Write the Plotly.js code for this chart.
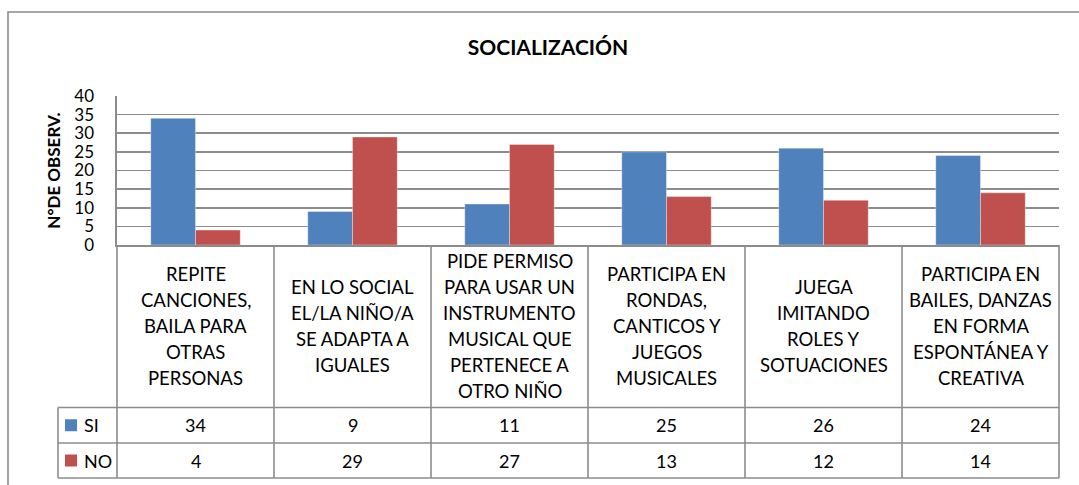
<!DOCTYPE html>
<html>
<head>
<meta charset="utf-8">
<script src="https://cdn.plot.ly/plotly-3.0.1.min.js"></script>
<style>html,body{margin:0;padding:0;background:#fff;}#chart{width:1079px;height:485px;}</style>
</head>
<body>
<div id="chart"></div>
<script>
// ---- data ----
var categories = [
  "REPITE<br>CANCIONES,<br>BAILA PARA<br>OTRAS<br>PERSONAS",
  "EN LO SOCIAL<br>EL/LA NIÑO/A<br>SE ADAPTA A<br>IGUALES",
  "PIDE PERMISO<br>PARA USAR UN<br>INSTRUMENTO<br>MUSICAL QUE<br>PERTENECE A<br>OTRO NIÑO",
  "PARTICIPA EN<br>RONDAS,<br>CANTICOS Y<br>JUEGOS<br>MUSICALES",
  "JUEGA<br>IMITANDO<br>ROLES Y<br>SOTUACIONES",
  "PARTICIPA EN<br>BAILES, DANZAS<br>EN FORMA<br>ESPONTÁNEA Y<br>CREATIVA"
];
var seriesNames = ["SI", "NO"];
var siValues = [34, 9, 11, 25, 26, 24];
var noValues = [4, 29, 27, 13, 12, 14];
var yTickVals = [0, 5, 10, 15, 20, 25, 30, 35, 40];
var chartTitle = "SOCIALIZACIÓN";
var yTitle = "N°DE OBSERV.";

// ---- styles / layout geometry ----
var W = 1079, H = 485;
var M = {l: 117, r: 20, t: 96, b: 240};
var plotW = W - M.l - M.r, plotH = H - M.t - M.b;
var colors = ["#4F81BD", "#C0504D"];
var lineCol = "#8c8c8c";
var FONT = "Lato, 'Open Sans', sans-serif";
function py(p) { return (H - M.b - p) / plotH; }   // pixel y -> paper y
function px(p) { return (p - M.l) / plotW; }       // pixel x -> paper x

var rowCatTop = H - M.b, rowCatBot = 407.5, rowSiBot = 443, rowNoBot = 478;
var tableLeft = 58;

var traces = [
  {type: "bar", name: seriesNames[0], x: categories, y: siValues, marker: {color: colors[0], line: {color: "rgba(255,255,255,0.35)", width: 1}}, hoverinfo: "y"},
  {type: "bar", name: seriesNames[1], x: categories, y: noValues, marker: {color: colors[1], line: {color: "rgba(255,255,255,0.35)", width: 1}}, hoverinfo: "y"}
];

var shapes = [];
var annotations = [];
var n = categories.length;
function hline(x0, x1, y) { shapes.push({type: "line", xref: "paper", yref: "paper", x0: x0, x1: x1, y0: y, y1: y, line: {color: lineCol, width: 1.6}}); }
function vline(x, y0, y1) { shapes.push({type: "line", xref: "paper", yref: "paper", x0: x, x1: x, y0: y0, y1: y1, line: {color: lineCol, width: 1.6}}); }

// outer chart border
shapes.push({type: "rect", xref: "paper", yref: "paper", x0: px(8), x1: px(W + 20), y0: py(12), y1: py(H + 20), line: {color: lineCol, width: 1.6}, fillcolor: "rgba(0,0,0,0)"});

// table grid
for (var i = 0; i <= n; i++) vline(i / n, py(rowCatTop), py(rowNoBot));
hline(px(tableLeft), 1, py(rowCatBot));
hline(px(tableLeft), 1, py(rowSiBot));
hline(px(tableLeft), 1, py(rowNoBot));
vline(px(tableLeft), py(rowCatBot), py(rowNoBot));

// category labels (one annotation per line, 26px line spacing)
var catCenter = py((rowCatTop + rowCatBot) / 2);
categories.forEach(function (c, ci) {
  var lines = c.split("<br>");
  lines.forEach(function (t, k) {
    annotations.push({xref: "x", yref: "paper", x: c, y: catCenter, text: t, showarrow: false,
      xanchor: "center", yanchor: "middle", yshift: -(k - (lines.length - 1) / 2) * 26,
      font: {family: FONT, size: 18.5, color: "#000"}});
  });
});

// data rows
var rows = [siValues, noValues];
var rowCenters = [py((rowCatBot + rowSiBot) / 2), py((rowSiBot + rowNoBot) / 2)];
rows.forEach(function (vals, r) {
  vals.forEach(function (v, ci) {
    annotations.push({xref: "x", yref: "paper", x: categories[ci], y: rowCenters[r], text: String(v), showarrow: false,
      xanchor: "center", yanchor: "middle", font: {family: FONT, size: 18, color: "#000"}});
  });
  // legend key
  shapes.push({type: "rect", xref: "paper", yref: "paper", x0: px(65), x1: px(77), y0: rowCenters[r] - 6 / plotH, y1: rowCenters[r] + 6 / plotH, line: {width: 0}, fillcolor: colors[r]});
  annotations.push({xref: "paper", yref: "paper", x: px(82), y: rowCenters[r], text: seriesNames[r], showarrow: false,
    xanchor: "left", yanchor: "middle", font: {family: FONT, size: 18, color: "#000"}});
});

var layout = {
  width: W, height: H,
  margin: M,
  paper_bgcolor: "#fff", plot_bgcolor: "#fff",
  showlegend: false,
  barmode: "group", bargap: 0.43, bargroupgap: 0,
  title: {text: "<b>" + chartTitle + "</b>", x: 548 / W, xref: "container", xanchor: "center", y: 1 - 48 / H, yref: "container", yanchor: "middle",
    font: {family: FONT, size: 21, color: "#000"}},
  xaxis: {type: "category", range: [-0.5, n - 0.5], showticklabels: false, ticks: "", showgrid: false, zeroline: false,
    showline: true, linecolor: lineCol, linewidth: 1.6, fixedrange: true},
  yaxis: {range: [0, 40], tickvals: yTickVals, ticks: "", showline: true, linecolor: lineCol, linewidth: 1.6,
    showgrid: true, gridcolor: lineCol, gridwidth: 1.6, zeroline: false, ticklabelstandoff: 18,
    tickfont: {family: FONT, size: 17, color: "#000"},
    title: {text: "<b>" + yTitle + "</b>", standoff: 9, font: {family: FONT, size: 17, color: "#000"}},
    automargin: false, fixedrange: true},
  shapes: shapes,
  annotations: annotations
};

Plotly.newPlot("chart", traces, layout, {displayModeBar: false, staticPlot: true});
</script>
</body>
</html>
